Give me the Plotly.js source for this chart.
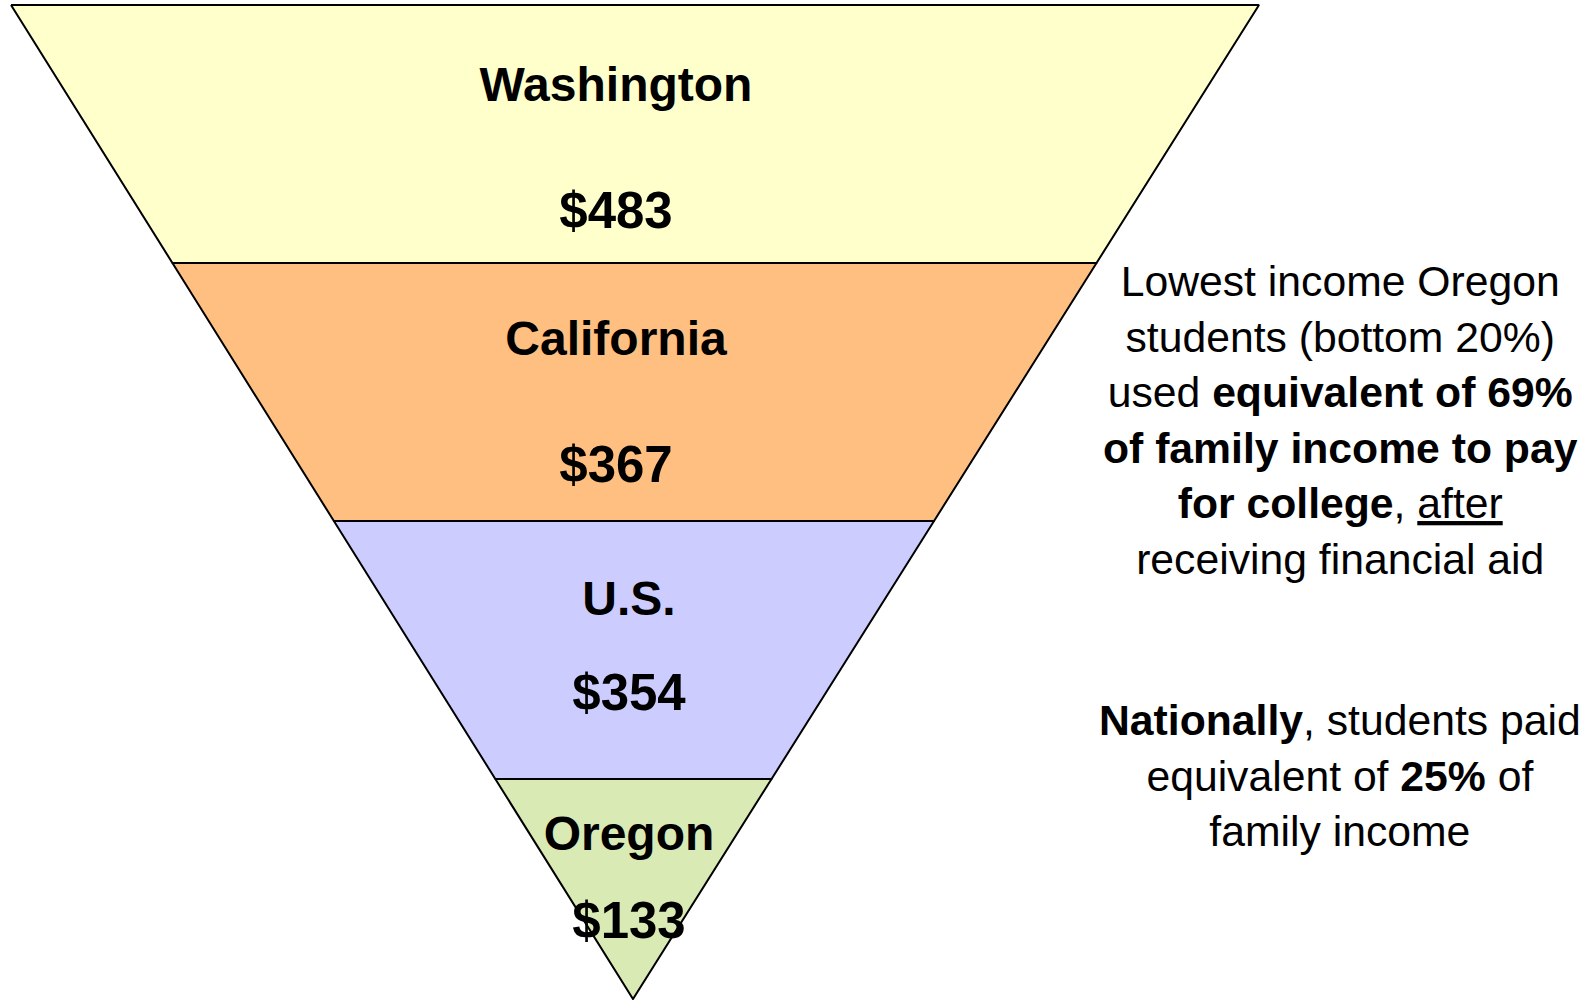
<!DOCTYPE html>
<html>
<head>
<meta charset="utf-8">
<script src="https://cdn.plot.ly/plotly-3.0.1.min.js"></script>
<style>html,body{margin:0;padding:0;background:#fff;}#chart{width:1596px;height:1000px;}</style>
</head>
<body>
<div id="chart"></div>
<script>
// ---- data ----
const states = ['Washington', 'California', 'U.S.', 'Oregon'];
const amounts = [483, 367, 354, 133];
const noteTop = 'Lowest income Oregon<br>students (bottom 20%)<br>used <b>equivalent of 69%</b><br><b>of family income to pay</b><br><b>for college</b>, <u>after</u><br>receiving financial aid';
const noteBottom = '<b>Nationally</b>, students paid<br>equivalent of <b>25%</b> of<br>family income';

// ---- styles / geometry ----
const fills = ['#FFFFCC', '#FFBF80', '#CCCCFF', '#D9EAB5'];
const FONT = 'Liberation Sans, Arial, Helvetica, sans-serif';
const geo = {topY: 5, bandH: 258, leftX: 11, rightX: 1259, apexX: 633, apexY: 999};
const nameOff = [84, 80, 82, 59];     // label centre below band top
const valueOff = [210, 206, 176, 146];
const labelX = [616, 616, 629, 629];

function edgeX(y, side) {
  const x0 = side === 'L' ? geo.leftX : geo.rightX;
  return x0 + (geo.apexX - x0) * (y - geo.topY) / (geo.apexY - geo.topY);
}

const traces = [];
states.forEach((s, i) => {
  const t = geo.topY + i * geo.bandH;
  const b = Math.min(geo.topY + (i + 1) * geo.bandH, geo.apexY);
  const last = i === states.length - 1;
  const xs = last ? [edgeX(t,'L'), edgeX(t,'R'), geo.apexX, edgeX(t,'L')]
                  : [edgeX(t,'L'), edgeX(t,'R'), edgeX(b,'R'), edgeX(b,'L'), edgeX(t,'L')];
  const ys = last ? [t, t, geo.apexY, t] : [t, t, b, b, t];
  traces.push({type: 'scatter', mode: 'lines', x: xs, y: ys, fill: 'toself',
    fillcolor: fills[i], line: {color: '#000', width: 2}, hoverinfo: 'skip'});
});

traces.push({type: 'scatter', mode: 'text',
  x: labelX, y: states.map((s, i) => geo.topY + i * geo.bandH + nameOff[i]),
  text: states.map(s => '<b>' + s + '</b>'), textposition: 'middle center',
  textfont: {family: FONT, size: 48, color: '#000'}, hoverinfo: 'skip', cliponaxis: false});
traces.push({type: 'scatter', mode: 'text',
  x: labelX, y: amounts.map((v, i) => geo.topY + i * geo.bandH + valueOff[i]),
  text: amounts.map(v => '<b>$' + v + '</b>'), textposition: 'middle center',
  textfont: {family: FONT, size: 51, color: '#000'}, hoverinfo: 'skip', cliponaxis: false});

const layout = {
  width: 1596, height: 1000,
  margin: {l: 0, r: 0, t: 0, b: 0},
  paper_bgcolor: '#fff', plot_bgcolor: '#fff',
  showlegend: false,
  xaxis: {range: [0, 1596], visible: false, fixedrange: true},
  yaxis: {range: [1000, 0], visible: false, fixedrange: true},
  annotations: [
    {xref: 'x', yref: 'y', x: 1340, y: 420, text: noteTop, showarrow: false,
     align: 'center', font: {family: FONT, size: 42.7, color: '#000'}},
    {xref: 'x', yref: 'y', x: 1340, y: 775, text: noteBottom, showarrow: false,
     align: 'center', font: {family: FONT, size: 42.7, color: '#000'}}
  ]
};
Plotly.newPlot('chart', traces, layout, {staticPlot: true, displayModeBar: false});
</script>
</body>
</html>
